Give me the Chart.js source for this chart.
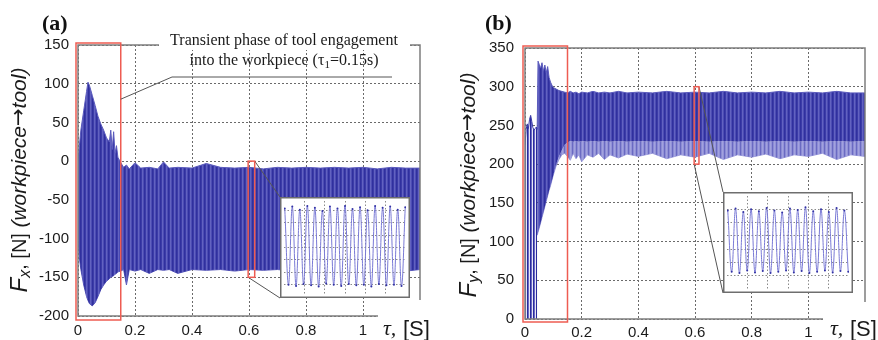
<!DOCTYPE html>
<html>
<head>
<meta charset="utf-8">
<script src="https://cdn.jsdelivr.net/npm/chart.js@4.4.0/dist/chart.umd.min.js"></script>
<style>
  html, body { margin: 0; padding: 0; background: #fff; }
  #wrap { position: relative; width: 878px; height: 340px; overflow: hidden; }
  canvas { position: absolute; }
</style>
</head>
<body>
<div id="wrap">
  <canvas id="fx" style="left:0;top:0;width:440px;height:340px" width="440" height="340"></canvas>
  <canvas id="fy" style="left:440px;top:0;width:438px;height:340px" width="438" height="340"></canvas>
  <canvas id="fxZoom" style="left:280px;top:197px;width:130px;height:101px" width="130" height="101"></canvas>
  <canvas id="fyZoom" style="left:723px;top:192px;width:130px;height:101px" width="130" height="101"></canvas>
</div>
<script>
// ---- Fx envelope (workpiece -> tool), time in s, force in N ----
const tA  = [0, 0.005, 0.01, 0.02, 0.03, 0.035, 0.04, 0.05, 0.06, 0.07,
             0.08, 0.09, 0.1, 0.11, 0.115, 0.12, 0.125, 0.13, 0.135, 0.14,
             0.15, 0.16, 0.17, 0.18, 0.2, 0.22, 0.25, 0.28, 0.3, 0.32,
             0.35, 0.4, 0.45, 0.5, 0.55, 0.6, 0.65, 0.7, 0.75, 0.8,
             0.85, 0.9, 0.95, 1.0, 1.05, 1.1, 1.15, 1.2];
const fxHi = [0, 20, 40, 65, 90, 102, 98, 85, 72, 58,
              48, 40, 30, 25, 40, 15, 38, 10, 20, 5,
              -2, -8, -5, -10, -2, -9, -8, -10, -1, -9,
              -8, -9, -3, -8, -9, -8, -10, -8, -9, -8,
              -9, -8, -9, -8, -10, -8, -9, -9];
const fxLo = [-100, -125, -140, -160, -175, -180, -184, -187, -183, -175,
              -166, -160, -155, -152, -150, -149, -148, -146, -145, -143,
              -142, -140, -160, -140, -142, -140, -145, -140, -141, -140,
              -145, -140, -141, -140, -142, -140, -141, -140, -142, -140,
              -141, -140, -142, -140, -141, -140, -142, -140];

// ---- Fy: start of cut (tool entering) ----
const tB0   = [0, 0.004, 0.008, 0.012, 0.016, 0.02, 0.024, 0.028, 0.032, 0.036, 0.04, 0.043];
const fyHi0 = [225, 245, 252, 246, 258, 263, 255, 247, 244, 246, 248, 245];
const fyLo0 = [0, 0, 0, 0, 0, 0, 0, 0, 0, 0, 0, 0];

// ---- Fy: full engagement ----
const tB   = [0.043, 0.046, 0.05, 0.055, 0.06, 0.065, 0.07, 0.075, 0.08, 0.085,
              0.09, 0.095, 0.1, 0.11, 0.12, 0.13, 0.14, 0.15, 0.16, 0.17,
              0.18, 0.19, 0.2, 0.22, 0.24, 0.26, 0.28, 0.3, 0.33, 0.36,
              0.4, 0.45, 0.5, 0.55, 0.6, 0.65, 0.7, 0.75, 0.8, 0.85,
              0.9, 0.95, 1.0, 1.05, 1.1, 1.15, 1.2];
const fyHi = [245, 333, 329, 324, 331, 320, 328, 318, 326, 312,
              306, 302, 299, 297, 295, 294, 293, 292, 294, 292,
              293, 291, 293, 292, 294, 292, 293, 292, 294, 292,
              293, 292, 294, 292, 293, 292, 294, 292, 293, 292,
              294, 292, 293, 292, 294, 292, 292];
const fyMid = [108, 112, 117, 124, 131, 138, 145, 152, 159, 166,
               172, 179, 186, 200, 210, 218, 225, 228, 230, 229,
               230, 229, 230, 229, 230, 229, 230, 229, 230, 229,
               230, 229, 230, 229, 230, 229, 230, 229, 230, 229,
               230, 229, 230, 229, 230, 229, 230];
const fyLo = [108, 112, 117, 124, 131, 138, 145, 152, 159, 166,
              172, 179, 186, 198, 206, 212, 214, 210, 205, 214,
              207, 212, 203, 212, 209, 214, 206, 212, 208, 213,
              210, 214, 207, 212, 209, 214, 206, 212, 209, 213,
              207, 212, 210, 214, 206, 212, 210];

// ---- zoomed windows around t = 0.6 s (successive peaks) ----
const fxZoomPeaks = [-17, -140, -14, -142, -19, -139, -13, -141, -16, -143,
                     -21, -138, -14, -140, -17, -142, -13, -139, -18, -141,
                     -15, -140, -20, -143, -13, -139, -16, -141, -14, -140,
                     -19, -142, -15];
const fyZoomPeaks = [298, 206, 301, 204, 296, 208, 300, 205, 297, 207,
                     302, 204, 298, 206, 295, 208, 301, 205, 299, 207,
                     303, 204, 297, 206, 300, 208, 296, 205, 302, 207,
                     298, 206];

const xTicks = [0, 0.2, 0.4, 0.6, 0.8, 1];
const xTickLabels = ['0', '0.2', '0.4', '0.6', '0.8', '1'];
const fxTicks = [-200, -150, -100, -50, 0, 50, 100, 150];
const fyTicks = [0, 50, 100, 150, 200, 250, 300, 350];

const SANS = '"Liberation Sans", Arial, sans-serif';
const SERIF = '"Liberation Serif", "Times New Roman", serif';

function stripes(cols) {
  const c = document.createElement('canvas');
  c.width = cols.length; c.height = 1;
  const g = c.getContext('2d');
  cols.forEach((col, i) => { g.fillStyle = col; g.fillRect(i, 0, 1, 1); });
  return g.createPattern(c, 'repeat');
}
const bandDark = stripes(['#30309e', '#3c3ca8', '#6262c0', '#4c4cb4']);
const bandLight = stripes(['#6a6ac2', '#8c8cd4', '#a2a2de', '#9292d8']);
const bandSparse = stripes(['#2a2a9c', '#6a6ac4', '#e6e6f5']);

const pts = (ts, vs) => ts.map((t, i) => ({ x: t, y: vs[i] }));

function band(ts, vs, fill, bg, line, lw) {
  return {
    data: pts(ts, vs), fill: fill, backgroundColor: bg,
    borderColor: line, borderWidth: lw, pointRadius: 0, tension: 0
  };
}

function yTitle(ctx, cx, cy, sub) {
  const parts = [
    { t: 'F', f: 'italic 24px ' + SANS, dy: 0 },
    { t: sub, f: 'italic 16px ' + SANS, dy: 6 },
    { t: ', [N] ', f: '20px ' + SANS, dy: 0 },
    { t: '(workpiece', f: 'italic 21px ' + SANS, dy: 0 },
    { t: '\u2192', f: '21px "DejaVu Sans", sans-serif', dy: 0 },
    { t: 'tool)', f: 'italic 21px ' + SANS, dy: 0 }
  ];
  let total = 0;
  parts.forEach(p => { ctx.font = p.f; p.w = ctx.measureText(p.t).width; total += p.w; });
  ctx.save();
  ctx.translate(cx, cy);
  ctx.rotate(-Math.PI / 2);
  ctx.fillStyle = '#1a1a1a';
  ctx.textBaseline = 'middle';
  ctx.textAlign = 'left';
  let x = -total / 2;
  parts.forEach(p => { ctx.font = p.f; ctx.fillText(p.t, x, p.dy); x += p.w; });
  ctx.restore();
}

function decoPlugin(cfg) {
  return {
    id: 'deco',
    afterDraw(chart) {
      const { ctx, chartArea: a, scales: { x, y } } = chart;
      ctx.save();
      // axes box
      ctx.strokeStyle = '#7d7d7d';
      ctx.lineWidth = 1.5;
      ctx.strokeRect(a.left, a.top, a.right - a.left, a.bottom - a.top);
      ctx.fillStyle = '#fff';
      ctx.fillRect(cfg.cut[0], cfg.cut[1], 200, 100);

      // transient window
      const bl = x.getPixelForValue(cfg.zone[0]) - 2;
      const br = x.getPixelForValue(cfg.zone[1]);
      ctx.strokeStyle = '#ee5c52';
      ctx.lineWidth = 1.5;
      ctx.strokeRect(bl, a.top - 2, br - bl, a.bottom - a.top + cfg.zonePad);

      // zoom window and its connectors
      const wl = x.getPixelForValue(cfg.win[0]), wr = x.getPixelForValue(cfg.win[1]);
      const wt = y.getPixelForValue(cfg.win[2]), wb = y.getPixelForValue(cfg.win[3]);
      ctx.strokeStyle = '#555';
      ctx.lineWidth = 1;
      ctx.beginPath();
      ctx.moveTo(wr, wt); ctx.lineTo(cfg.inset[0], cfg.inset[1]);
      ctx.moveTo(wl, wb); ctx.lineTo(cfg.inset[0], cfg.inset[1] + cfg.inset[3]);
      ctx.stroke();
      ctx.strokeStyle = '#ee5c52';
      ctx.lineWidth = 1.5;
      ctx.strokeRect(wl, wt, wr - wl, wb - wt);

      if (cfg.note) {
        ctx.fillStyle = '#fff';
        ctx.fillRect(159, 35, 251, 15);
        ctx.strokeStyle = '#555';
        ctx.lineWidth = 1;
        ctx.beginPath();
        ctx.moveTo(br, y.getPixelForValue(80));
        ctx.lineTo(172, 77);
        ctx.lineTo(392, 77);
        ctx.stroke();
        ctx.fillStyle = '#1a1a1a';
        ctx.textBaseline = 'middle';
        ctx.textAlign = 'center';
        ctx.font = '16px ' + SERIF;
        ctx.fillText('Transient phase of tool engagement', 284, 41);
        // second line with subscript
        const p1 = 'into the workpiece (\u03c4', p2 = '1', p3 = '=0.15s)';
        ctx.font = '16px ' + SERIF;
        const w1 = ctx.measureText(p1).width, w3 = ctx.measureText(p3).width;
        ctx.font = '11px ' + SERIF;
        const w2 = ctx.measureText(p2).width;
        let sx = 284 - (w1 + w2 + w3) / 2;
        ctx.textAlign = 'left';
        ctx.font = '16px ' + SERIF;
        ctx.fillText(p1, sx, 61); sx += w1;
        ctx.font = '11px ' + SERIF;
        ctx.fillText(p2, sx, 65); sx += w2;
        ctx.font = '16px ' + SERIF;
        ctx.fillText(p3, sx, 61);
      }

      // panel letter
      ctx.fillStyle = '#111';
      ctx.textAlign = 'left';
      ctx.textBaseline = 'alphabetic';
      ctx.font = 'bold 22px ' + SERIF;
      ctx.fillText(cfg.letter, cfg.letterX, 30);

      // time axis title
      ctx.font = 'italic 22px ' + SERIF;
      ctx.fillStyle = '#1a1a1a';
      ctx.fillText('\u03c4,', cfg.tauX, 335);
      ctx.font = '22px ' + SANS;
      ctx.fillText('[S]', cfg.tauX + 20, 336);

      yTitle(ctx, cfg.titleX, cfg.titleY, cfg.sub);
      ctx.restore();
    }
  };
}

function mainOptions(yMin, yMax, yTicks, dims) {
  const font = { family: SANS, size: 15 };
  return {
    responsive: false,
    animation: false,
    events: [],
    layout: { padding: { top: dims.top, right: dims.right, left: 0, bottom: 0 } },
    plugins: { legend: { display: false }, tooltip: { enabled: false } },
    scales: {
      x: {
        type: 'linear', min: 0, max: 1.2,
        afterBuildTicks: s => { s.ticks = xTicks.map(v => ({ value: v })); },
        afterFit: s => { s.height = dims.xh; },
        ticks: { callback: (v, i) => xTickLabels[i], font: font, color: '#1a1a1a',
                 padding: dims.xpad, autoSkip: false, maxRotation: 0 },
        grid: { color: '#6a6a6a', lineWidth: 1, drawTicks: false },
        border: { display: false, dash: [2, 2] }
      },
      y: {
        min: yMin, max: yMax,
        afterBuildTicks: s => { s.ticks = yTicks.map(v => ({ value: v })); },
        afterFit: s => { s.width = dims.yw; },
        ticks: { font: font, color: '#1a1a1a', padding: dims.ypad },
        grid: { color: '#6a6a6a', lineWidth: 1, drawTicks: false },
        border: { display: false, dash: [2, 2] }
      }
    }
  };
}

new Chart(document.getElementById('fx'), {
  type: 'line',
  data: {
    datasets: [
      band(tA, fxHi, '+1', bandDark, '#5a5abc', 1),
      band(tA, fxLo, false, 'transparent', '#5a5abc', 1)
    ]
  },
  options: mainOptions(-200, 150, fxTicks, { top: 45, right: 20, xh: 24, yw: 78, xpad: 6, ypad: 9 }),
  plugins: [decoPlugin({
    zone: [0, 0.15], zonePad: 6, win: [0.597, 0.62, 0, -150],
    inset: [280, 197, 130, 101], cut: [378, 300], note: true,
    letter: '(a)', letterX: 42, tauX: 383, titleX: 20, titleY: 180, sub: 'x'
  })]
});

new Chart(document.getElementById('fy'), {
  type: 'line',
  data: {
    datasets: [
      band(tB0, fyHi0, '+1', bandSparse, '#3a3aa8', 1),
      band(tB0, fyLo0, false, 'transparent', '#3a3aa8', 0),
      band(tB, fyHi, '+1', bandDark, '#5a5abc', 1),
      band(tB, fyMid, '+1', bandLight, 'transparent', 0),
      band(tB, fyLo, false, 'transparent', '#a0a0dc', 1)
    ]
  },
  options: mainOptions(0, 350, fyTicks, { top: 48, right: 13, xh: 21, yw: 85, xpad: 5, ypad: 11 }),
  plugins: [decoPlugin({
    zone: [0, 0.15], zonePad: 5, win: [0.597, 0.614, 300, 200],
    inset: [283, 192, 130, 101], cut: [383, 302], note: false,
    letter: '(b)', letterX: 45, tauX: 390, titleX: 29, titleY: 185, sub: 'y'
  })]
});

const insetFrame = {
  id: 'insetFrame',
  beforeDraw(chart) {
    const ctx = chart.ctx;
    ctx.save();
    ctx.fillStyle = '#fff';
    ctx.fillRect(0, 0, chart.width, chart.height);
    ctx.restore();
  },
  afterDraw(chart) {
    const ctx = chart.ctx;
    ctx.save();
    ctx.strokeStyle = '#6e6e6e';
    ctx.lineWidth = 1.5;
    ctx.strokeRect(0.75, 0.75, chart.width - 1.5, chart.height - 1.5);
    ctx.restore();
  }
};

function insetChart(id, peaks, yMin, yMax, yGrid) {
  new Chart(document.getElementById(id), {
    type: 'line',
    data: {
      datasets: [{
        data: peaks.map((v, i) => ({ x: i, y: v })),
        borderColor: '#7a7ad6', borderWidth: 1, tension: 0.4,
        pointRadius: 1, pointBackgroundColor: '#3232a4', pointBorderWidth: 0
      }]
    },
    options: {
      responsive: false, animation: false, events: [],
      layout: { padding: 0 },
      plugins: { legend: { display: false }, tooltip: { enabled: false } },
      scales: {
        x: {
          type: 'linear', min: -0.2, max: peaks.length - 0.8,
          afterBuildTicks: s => {
            s.ticks = [1, 2, 3, 4, 5].map(k => ({ value: s.min + k * (s.max - s.min) / 6 }));
          },
          afterFit: s => { s.height = 0; },
          ticks: { display: false },
          grid: { color: '#8a8a8a', drawTicks: false },
          border: { display: false, dash: [1.5, 2] }
        },
        y: {
          min: yMin, max: yMax,
          afterBuildTicks: s => { s.ticks = yGrid.map(v => ({ value: v })); },
          afterFit: s => { s.width = 0; },
          ticks: { display: false },
          grid: { color: '#8a8a8a', drawTicks: false },
          border: { display: false, dash: [1.5, 2] }
        }
      }
    },
    plugins: [insetFrame]
  });
}

insetChart('fxZoom', fxZoomPeaks, -155, -5, [-140, -120, -100, -80, -60, -40, -20]);
insetChart('fyZoom', fyZoomPeaks, 180, 320, [200, 220, 240, 260, 280, 300]);
</script>
</body>
</html>
